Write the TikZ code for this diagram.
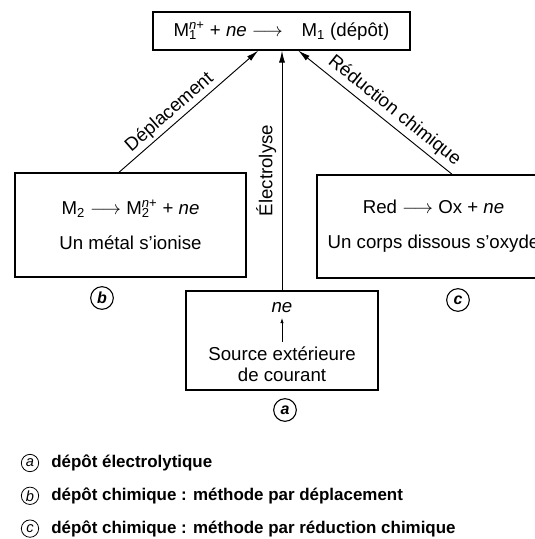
\documentclass[tikz,border=0pt]{standalone}
\usepackage{fontspec}
\setmainfont{Liberation Sans}
\usetikzlibrary{arrows.meta, positioning, calc}
\newcommand{\ionM}[1]{M\rlap{\textsubscript{#1}}\textsuperscript{\textit{n}+}}
\tikzset{
    base/.style = {
        draw=black, line width=0.9pt, text centered,
        inner sep=0pt, font=\fontsize{14}{17}\selectfont
    },
    % Boxes
    reaction/.style = {base, rectangle, align=center},
    plain/.style    = {align=center, font=\fontsize{14}{16}\selectfont},
    tag/.style      = {draw, circle, line width=0.8pt, minimum size=17pt, inner sep=0pt, font=\fontsize{12}{12}\selectfont\bfseries\itshape},
    legtag/.style   = {draw, circle, line width=0.6pt, minimum size=13pt, inner sep=0pt, font=\fontsize{11}{11}\selectfont\itshape},
    legtext/.style  = {inner sep=0pt, font=\fontsize{12.7}{15}\selectfont\bfseries},
    % Edges and labels
    arrow/.style      = {line width=0.7pt, -{Latex[length=9pt, width=4.5pt]}},
    smallarrow/.style = {line width=0.6pt, -{Latex[length=4pt, width=2.5pt]}},
    pathlabel/.style  = {font=\fontsize{14}{16}\selectfont, inner sep=2pt}
}

\begin{document}
\begin{tikzpicture}[x=0.75pt, y=-0.75pt]
    \useasboundingbox (0,0) rectangle (535,539);

    \node (depot) [reaction, minimum width=192.75pt, minimum height=28.5pt] at (281.5,31) {\ionM{1} + \textit{ne} $\longrightarrow$\quad M\textsubscript{1} (dépôt)};

    \node (ionise) [reaction, minimum width=173.25pt, minimum height=78pt] at (130.5,225) {M\textsubscript{2} $\longrightarrow$ \ionM{2} + \textit{ne}\\[9pt] Un métal s'ionise};
    \node (oxyde) [reaction, minimum width=174.75pt, minimum height=77.25pt] at (433.5,226.5) {Red $\longrightarrow$ Ox + \textit{ne}\\[9pt] Un corps dissous s'oxyde};

    \node (source) [reaction, minimum width=144pt, minimum height=74.25pt] at (282,340.5) {};
    \node (courant) [plain] at (282,364) {Source extérieure\\de courant};
    \node (ne) [plain] at (282,308) {\textit{ne}};

    \node (tag-b) [tag] at (102,298) {b};
    \node (tag-c) [tag] at (458,300) {c};
    \node (tag-a) [tag] at (285,410) {a};

    \draw [arrow] ($(ionise.north west)!0.45!(ionise.north east)$) -- node[pathlabel, pos=0.42, above, sloped] {Déplacement} ($(depot.south west)!0.41!(depot.south east)$);
    \draw [arrow] (source.north) -- node[pathlabel, midway, above, sloped, inner sep=4pt] {Électrolyse} (source.north |- depot.south);
    \draw [arrow] ($(oxyde.north west)!0.58!(oxyde.north east)$) -- node[pathlabel, pos=0.43, above, sloped, inner sep=3pt] {Réduction chimique} ($(depot.south west)!0.565!(depot.south east)$);
    \draw [smallarrow] (courant) -- (ne);

    % Legend
    \node (leg-a) [legtag] at (30,463) {a};
    \node (leg-b) [legtag, below=11pt of leg-a] {b};
    \node (leg-c) [legtag, below=11pt of leg-b] {c};
    \node (txt-a) [legtext, right=9pt of leg-a] {dépôt électrolytique};
    \node (txt-b) [legtext, right=9pt of leg-b] {dépôt chimique : méthode par déplacement};
    \node (txt-c) [legtext, right=9pt of leg-c] {dépôt chimique : méthode par réduction chimique};
\end{tikzpicture}
\end{document}
